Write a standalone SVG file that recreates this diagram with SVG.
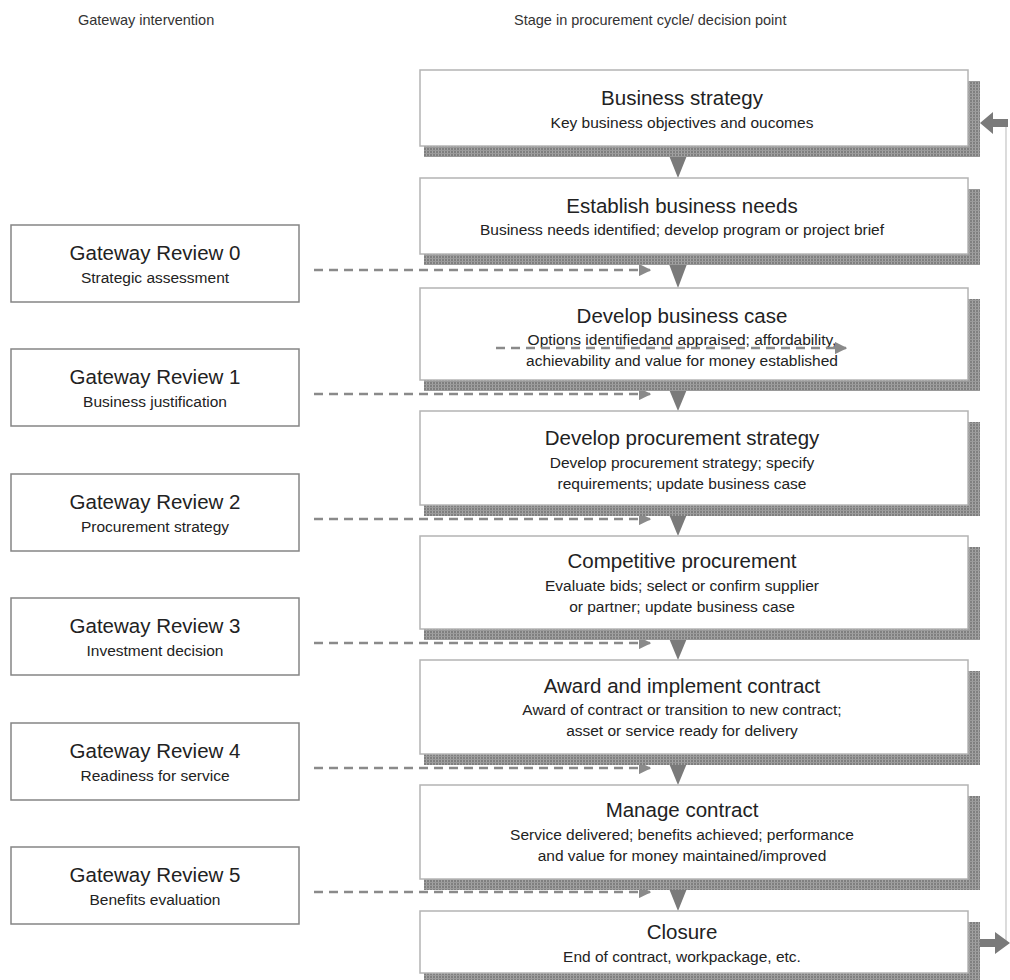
<svg xmlns="http://www.w3.org/2000/svg" width="1010" height="980" viewBox="0 0 1010 980">
  <style>
    .hdr { font-family: "Liberation Sans", Arial, sans-serif; font-size: 14.5px; fill: #333; }
    .title { font-family: "Liberation Sans", Arial, sans-serif; font-size: 20.5px; fill: #222; text-anchor: middle; }
    .sub { font-family: "Liberation Sans", Arial, sans-serif; font-size: 15.5px; fill: #222; text-anchor: middle; }
    .box { fill: #fff; stroke: #b4b4b4; stroke-width: 1.5; }
    .gbox { fill: #fff; stroke: #858585; stroke-width: 1.5; }
    .shadow { fill: url(#hatch); }
    .dash { fill: none; stroke: #8a8a8a; stroke-width: 2.5; stroke-dasharray: 9 6; }
    .flow { fill: #7a7a7a; }
    .ret { fill: none; stroke: #c4c4c4; stroke-width: 1.2; }
  </style>
  <defs>
    <pattern id="hatch" width="3" height="3" patternUnits="userSpaceOnUse">
      <rect width="3" height="3" fill="#7f7f7f"/>
      <rect width="1" height="3" fill="#a4a4a4"/>
      <rect width="3" height="1" fill="#9a9a9a"/>
    </pattern>
    <marker id="dashHead" viewBox="0 0 10 10" refX="9" refY="5" markerWidth="5" markerHeight="5" orient="auto" markerUnits="strokeWidth">
      <path d="M0,0 L10,5 L0,10 z" fill="#8a8a8a"/>
    </marker>
  </defs>

  <rect width="1010" height="980" fill="#fff"/>

  <!-- column headings -->
  <text class="hdr" x="78" y="25">Gateway intervention</text>
  <text class="hdr" x="514" y="25">Stage in procurement cycle/ decision point</text>

  <!-- connectors -->
  <g id="connectors">
    <!-- return loop from closure back to strategy -->
    <path class="ret" d="M1006,943 L1006,123"/>
    <path class="flow" d="M1008,119 L993,119 L993,112 L980,123 L993,134 L993,127 L1008,127 z"/>
    <path class="flow" d="M980,939 L995,939 L995,932 L1010,943 L995,954 L995,947 L980,947 z"/>

    <!-- flow arrows between stages -->
    <path class="flow" d="M666,148 L690,148 L678,178 z"/>
    <path class="flow" d="M666,256 L690,256 L678,288 z"/>
    <path class="flow" d="M666,382 L690,382 L678,411 z"/>
    <path class="flow" d="M666,507 L690,507 L678,536 z"/>
    <path class="flow" d="M666,631 L690,631 L678,660 z"/>
    <path class="flow" d="M666,756 L690,756 L678,785 z"/>
    <path class="flow" d="M666,881 L690,881 L678,911 z"/>

    <!-- gateway review links -->
    <line class="dash" x1="314" y1="270" x2="650" y2="270" marker-end="url(#dashHead)"/>
    <line class="dash" x1="314" y1="394" x2="650" y2="394" marker-end="url(#dashHead)"/>
    <line class="dash" x1="314" y1="519" x2="650" y2="519" marker-end="url(#dashHead)"/>
    <line class="dash" x1="314" y1="643" x2="650" y2="643" marker-end="url(#dashHead)"/>
    <line class="dash" x1="314" y1="768" x2="650" y2="768" marker-end="url(#dashHead)"/>
    <line class="dash" x1="314" y1="892" x2="650" y2="892" marker-end="url(#dashHead)"/>
  </g>

  <!-- procurement stages -->
  <g id="stage-strategy">
    <rect class="shadow" x="424" y="81" width="556" height="76"/>
    <rect class="box" x="420" y="70" width="548" height="76"/>
    <text class="title" x="682" y="105">Business strategy</text>
    <text class="sub" x="682" y="128">Key business objectives and oucomes</text>
  </g>
  <g id="stage-needs">
    <rect class="shadow" x="424" y="189" width="556" height="76"/>
    <rect class="box" x="420" y="178" width="548" height="76"/>
    <text class="title" x="682" y="213">Establish business needs</text>
    <text class="sub" x="682" y="235">Business needs identified; develop program or project brief</text>
  </g>
  <g id="stage-case">
    <rect class="shadow" x="424" y="299" width="556" height="92"/>
    <rect class="box" x="420" y="288" width="548" height="92"/>
    <text class="title" x="682" y="323">Develop business case</text>
    <text class="sub" x="682" y="345">Options identifiedand appraised; affordability,</text>
    <text class="sub" x="682" y="366">achievability and value for money established</text>
    <line class="dash" x1="496" y1="348" x2="846" y2="348" marker-end="url(#dashHead)"/>
  </g>
  <g id="stage-procurement-strategy">
    <rect class="shadow" x="424" y="422" width="556" height="94"/>
    <rect class="box" x="420" y="411" width="548" height="94"/>
    <text class="title" x="682" y="445">Develop procurement strategy</text>
    <text class="sub" x="682" y="468">Develop procurement strategy; specify</text>
    <text class="sub" x="682" y="489">requirements; update business case</text>
  </g>
  <g id="stage-competitive">
    <rect class="shadow" x="424" y="547" width="556" height="93"/>
    <rect class="box" x="420" y="536" width="548" height="93"/>
    <text class="title" x="682" y="568">Competitive procurement</text>
    <text class="sub" x="682" y="591">Evaluate bids; select or confirm supplier</text>
    <text class="sub" x="682" y="612">or partner; update business case</text>
  </g>
  <g id="stage-award">
    <rect class="shadow" x="424" y="671" width="556" height="94"/>
    <rect class="box" x="420" y="660" width="548" height="94"/>
    <text class="title" x="682" y="693">Award and implement contract</text>
    <text class="sub" x="682" y="715">Award of contract or transition to new contract;</text>
    <text class="sub" x="682" y="736">asset or service ready for delivery</text>
  </g>
  <g id="stage-manage">
    <rect class="shadow" x="424" y="796" width="556" height="94"/>
    <rect class="box" x="420" y="785" width="548" height="94"/>
    <text class="title" x="682" y="817">Manage contract</text>
    <text class="sub" x="682" y="840">Service delivered; benefits achieved; performance</text>
    <text class="sub" x="682" y="861">and value for money maintained/improved</text>
  </g>
  <g id="stage-closure">
    <rect class="shadow" x="424" y="922" width="556" height="62"/>
    <rect class="box" x="420" y="911" width="548" height="62"/>
    <text class="title" x="682" y="939">Closure</text>
    <text class="sub" x="682" y="962">End of contract, workpackage, etc.</text>
  </g>

  <!-- gateway reviews -->
  <g id="gateway-0">
    <rect class="gbox" x="11" y="225" width="288" height="77"/>
    <text class="title" x="155" y="260">Gateway Review 0</text>
    <text class="sub" x="155" y="283">Strategic assessment</text>
  </g>
  <g id="gateway-1">
    <rect class="gbox" x="11" y="349" width="288" height="77"/>
    <text class="title" x="155" y="384">Gateway Review 1</text>
    <text class="sub" x="155" y="407">Business justification</text>
  </g>
  <g id="gateway-2">
    <rect class="gbox" x="11" y="474" width="288" height="77"/>
    <text class="title" x="155" y="509">Gateway Review 2</text>
    <text class="sub" x="155" y="532">Procurement strategy</text>
  </g>
  <g id="gateway-3">
    <rect class="gbox" x="11" y="598" width="288" height="77"/>
    <text class="title" x="155" y="633">Gateway Review 3</text>
    <text class="sub" x="155" y="656">Investment decision</text>
  </g>
  <g id="gateway-4">
    <rect class="gbox" x="11" y="723" width="288" height="77"/>
    <text class="title" x="155" y="758">Gateway Review 4</text>
    <text class="sub" x="155" y="781">Readiness for service</text>
  </g>
  <g id="gateway-5">
    <rect class="gbox" x="11" y="847" width="288" height="77"/>
    <text class="title" x="155" y="882">Gateway Review 5</text>
    <text class="sub" x="155" y="905">Benefits evaluation</text>
  </g>
</svg>
